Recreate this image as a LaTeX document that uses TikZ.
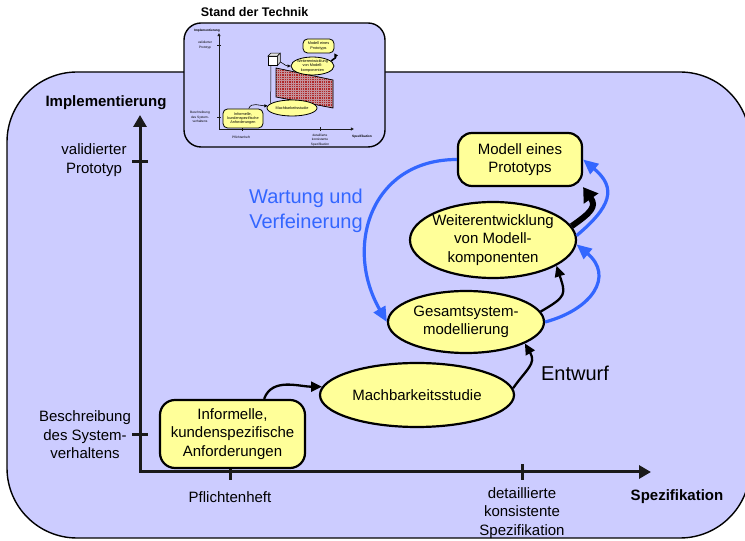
\documentclass[tikz,border=0pt]{standalone}
\usepackage{fontspec}
\setmainfont{Liberation Sans}
\usetikzlibrary{shapes.geometric,arrows.meta}

\definecolor{lav}{HTML}{CCCCFF}
\definecolor{nodeyellow}{HTML}{FFFF99}
\definecolor{linkblue}{HTML}{3366FF}
\definecolor{axisdark}{HTML}{1A1A1A}
\definecolor{wallred}{HTML}{B02828}
\definecolor{wallgrid}{HTML}{C4909A}

\newcommand\setfs[2]{\fontsize{#1}{#2}\selectfont}

\begin{document}
\begin{tikzpicture}[x=1pt,y=1pt,
  font=\setfs{15}{18.5},
  stepbox/.style={draw, line width=2.2pt, fill=nodeyellow, rounded corners=15pt, inner sep=0pt, align=center},
  oval/.style={draw, ellipse, line width=2.2pt, fill=nodeyellow, inner sep=0pt},
  ovaltext/.style={align=center, inner sep=0pt},
  axisline/.style={draw=axisdark, line width=3pt},
  axislabel/.style={align=center, inner sep=0pt},
  flow/.style={draw=black, line width=2.3pt, -{Triangle[length=11pt,width=10pt]}},
  bigflow/.style={draw=black, line width=6pt, -{Triangle[length=14pt,width=17pt]}},
  loopflow/.style={draw=linkblue, line width=3.2pt, -{Triangle[length=15pt,width=13pt]}},
  minibox/.style={draw, line width=0.8pt, fill=nodeyellow, rounded corners=4.5pt, inner sep=0pt, align=center, font=\setfs{3.8}{4.4}},
  minioval/.style={draw, ellipse, line width=0.8pt, fill=nodeyellow, inner sep=0pt},
  minitext/.style={align=center, inner sep=0pt, font=\setfs{3.8}{4.4}},
  minilabel/.style={align=center, inner sep=0pt, font=\setfs{3.2}{4.6}},
  miniaxis/.style={draw=axisdark, line width=0.9pt},
  miniflow/.style={draw=black, line width=0.6pt, -{Triangle[length=3pt,width=3pt]}},
  minibig/.style={draw=black, line width=1.6pt, -{Triangle[length=3.5pt,width=4pt]}},
]
\useasboundingbox (0,0) rectangle (745,541);

% main panel
\draw[fill=lav, line width=1.4pt, rounded corners=70pt] (7,3) rectangle (750,469);

% ---------- small overview panel ----------
\draw[fill=lav, line width=1.4pt, rounded corners=17pt] (184,394) rectangle (385,518);
\node[font=\setfs{12.5}{15}\bfseries] (insettitle) at (254.5,529) {Stand der Technik};

% checkered wall
\begin{scope}
  \clip (276,473) -- (333,461) -- (333,433) -- (276,444) -- cycle;
  \fill[wallred] (270,425) rectangle (340,480);
  \foreach \gx in {277,279.3,...,334} \draw[wallgrid, line width=0.22pt] (\gx,425) -- (\gx,480);
  \foreach \gy in {426,428.3,...,480} \draw[wallgrid, line width=0.22pt] (270,\gy) -- (340,\gy);
\end{scope}
\draw[line width=0.7pt] (276,473) -- (333,461) -- (333,433) -- (276,444) -- cycle;

% overview axes
\coordinate (mo) at (219,412);
\coordinate (my) at (219,508);
\coordinate (mx) at (354,412);
\draw[miniaxis, {Triangle[length=3.2pt,width=3pt]}-{Triangle[length=3.2pt,width=3pt]}] (my) -- (mo) -- (mx);
\draw[miniaxis] (217,496) -- (221,496);
\draw[miniaxis] (217,424) -- (221,424);
\draw[miniaxis] (242,410) -- (242,414);
\draw[miniaxis] (320,410) -- (320,414);

\node[minilabel, font=\setfs{3.2}{4.6}\bfseries] (myl) at (207,510) {Implementierung};
\node[minilabel] (mproto) at (205,496) {validierter\\Prototyp};
\node[minilabel] (mbesch) at (200,424) {Beschreibung\\des System-\\verhaltens};
\node[minilabel] (mpflicht) at (241,404) {Pflichtenheft};
\node[minilabel] (mdetail) at (320,401) {detaillierte\\konsistente\\Spezifikation};
\node[minilabel, font=\setfs{3.2}{4.6}\bfseries] (mxl) at (362,404) {Spezifikation};

% overview nodes
\node[minibox, minimum width=40pt, minimum height=19pt] (minf) at (243,422.5) {Informelle,\\kundenspezifische\\Anforderungen};
\node[minioval, minimum width=50pt, minimum height=16pt] (mmach) at (292,433) {};
\node[minitext] (mmachtext) at (mmach.center) {Machbarkeitsstudie};
\node[minioval, minimum width=43pt, minimum height=18pt] (mwei) at (312.5,475) {};
\node[minitext] (mweitext) at (mwei.center) {Weiterentwicklung\\von Modell-\\komponenten};
\node[minibox, minimum width=31pt, minimum height=14pt] (mmod) at (318.5,495) {Modell eines\\Prototyps};

% overview connectors
\coordinate (cubebase) at (271,475.5);
\draw[miniflow] (minf.60) to[out=70,in=180] (mmach.175);
\draw[line width=0.5pt] (mmach.168) -- (cubebase);
\draw[miniflow] (276,480) to[out=0,in=180] (mwei.west);
\draw[minibig] (mwei.15) to[out=40,in=-60,looseness=1.5] (mmod.south east);

% small cube
\node[draw, fill=white, line width=0.5pt, minimum size=9pt, inner sep=0pt] (cube) at (272.5,480) {};
\draw[fill=gray!20, line width=0.5pt] (cube.north west) -- ++(3,3) -- ++(9,0) -- (cube.north east) -- cycle;
\draw[fill=gray!40, line width=0.5pt] (cube.north east) -- ++(3,3) -- ++(0,-9) -- (cube.south east) -- cycle;

% ---------- main axes ----------
\coordinate (origin) at (140,69);
\coordinate (ytip) at (140,426);
\coordinate (xtip) at (651,69);
\draw[axisline, {Triangle[length=12pt,width=13pt]}-{Triangle[length=12pt,width=13pt]}] (ytip) -- (origin) -- (xtip);
\draw[axisline] (132,379) -- (148,379);
\draw[axisline] (132,106) -- (148,106);
\draw[axisline] (230,61) -- (230,77);
\draw[axisline] (522,61) -- (522,77);

\node[axislabel, font=\setfs{15}{18.5}\bfseries] (ylabel) at (106,438) {Implementierung};
\node[axislabel] (proto) at (94,381) {validierter\\Prototyp};
\node[axislabel] (besch) at (85,106) {Beschreibung\\des System-\\verhaltens};
\node[axislabel] (pflicht) at (230,44) {Pflichtenheft};
\node[axislabel] (detail) at (522,28) {detaillierte\\konsistente\\Spezifikation};
\node[axislabel, font=\setfs{15}{18.5}\bfseries] (xlabel) at (677,44) {Spezifikation};

% ---------- process nodes ----------
\node[stepbox, minimum width=145pt, minimum height=68pt] (inf) at (232.5,107) {Informelle,\\kundenspezifische\\Anforderungen};
\node[oval, minimum width=194pt, minimum height=64pt] (mach) at (417,146) {};
\node[ovaltext] (machtext) at (mach.center) {Machbarkeitsstudie};
\node[oval, minimum width=156pt, minimum height=62pt] (ges) at (466,219) {};
\node[ovaltext] (gestext) at (ges.center) {Gesamtsystem-\\modellierung};
\node[oval, minimum width=166pt, minimum height=76pt] (wei) at (493,301) {};
\node[ovaltext] (weitext) at (wei.center) {Weiterentwicklung\\von Modell-\\komponenten};
\node[stepbox, minimum width=124pt, minimum height=53pt, rounded corners=14pt] (mod) at (520,381.5) {Modell eines\\Prototyps};

% ---------- connectors ----------
\draw[flow] (inf.48) to[out=70,in=180] (mach.175);
\draw[flow] (mach.4) to[out=55,in=-60,looseness=1.3] (ges.-20);
\draw[flow] (ges.8) to[out=30,in=-72,looseness=1.6] (wei.-22);
\draw[bigflow] (wei.10) to[out=35,in=-55,looseness=1.5] (mod.south east);

\draw[loopflow] (mod.west) to[out=180,in=120,looseness=1.25] (ges.west);
\draw[loopflow] (ges.east) to[out=15,in=-40,looseness=1.5] (wei.-3);
\draw[loopflow] (wei.3) to[out=40,in=-40,looseness=1.5] (mod.east);

% ---------- annotations ----------
\node[font=\setfs{20}{25}, text=linkblue, align=center] (wartung) at (306,330) {Wartung und\\Verfeinerung};
\node[font=\setfs{20}{24}] (entwurf) at (575,168) {Entwurf};
\end{tikzpicture}
\end{document}
